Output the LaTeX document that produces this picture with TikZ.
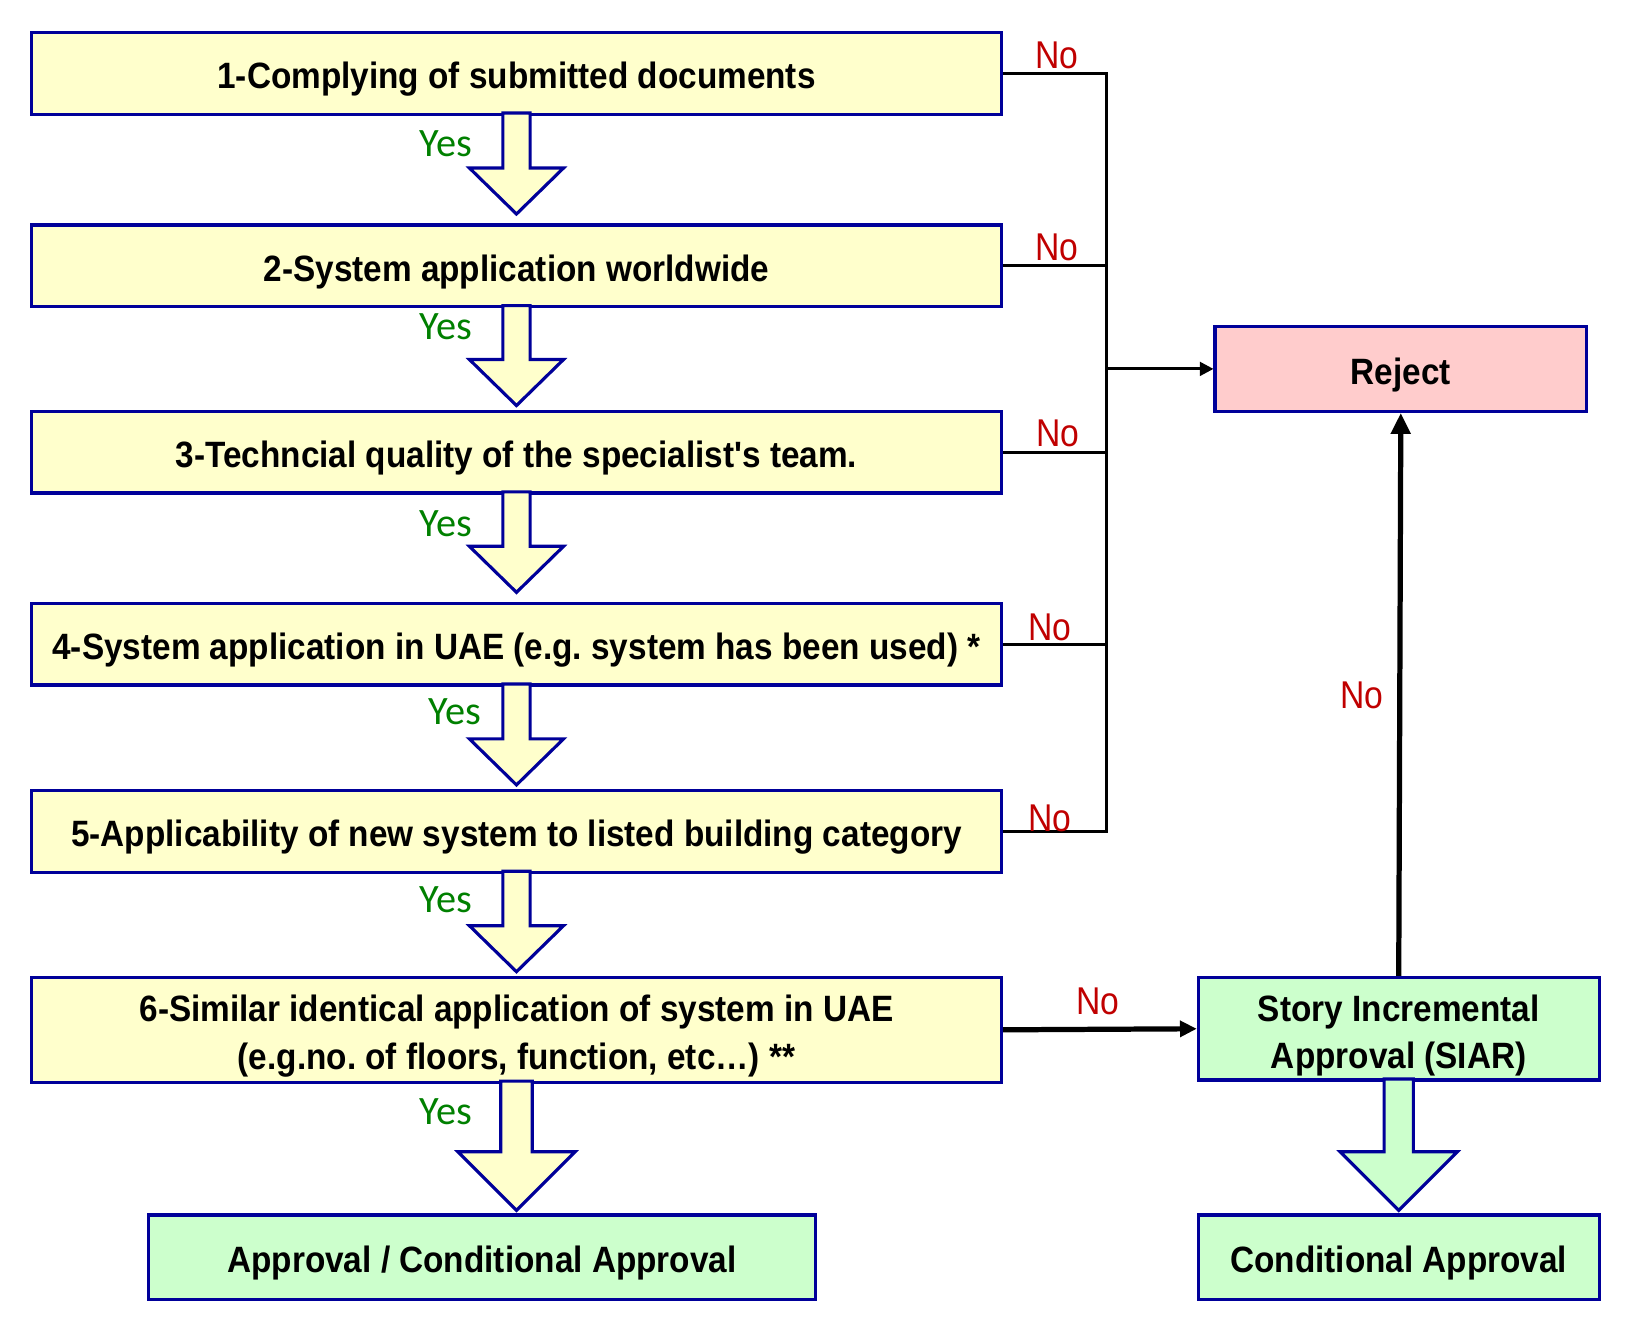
\documentclass[tikz,border=0pt]{standalone}
\usepackage{fontspec}
\setmainfont{Liberation Sans}[FakeStretch=0.91, Ligatures=TeXOff]
\newfontfamily\nofont{Liberation Sans}[FakeStretch=0.87]
\newfontfamily\yesfont{Carlito}
\usetikzlibrary{calc,arrows.meta}
\frenchspacing
\definecolor{bordblue}{RGB}{0,0,153}
\definecolor{boxyellow}{RGB}{255,255,204}
\definecolor{boxgreen}{RGB}{204,255,204}
\definecolor{boxpink}{RGB}{255,204,204}
\definecolor{nored}{RGB}{192,0,0}
\definecolor{yesgreen}{RGB}{0,128,0}
\tikzset{
  stepbox/.style={draw=bordblue, line width=3pt, fill=boxyellow, rectangle, inner sep=0pt,
     minimum width=927pt, minimum height=78pt, align=center, text height=30pt, text depth=1pt,
     font=\fontsize{35}{45}\selectfont\bfseries\frenchspacing},
  greenbox/.style={stepbox, fill=boxgreen, minimum width=383pt},
  pinkbox/.style={stepbox, fill=boxpink, minimum width=355pt, minimum height=81pt},
  nolab/.style={text=nored, font=\nofont\fontsize{37}{40}\selectfont, inner sep=0pt},
  yeslab/.style={text=yesgreen, font=\yesfont\fontsize{38.5}{40}\selectfont, inner sep=0pt},
  conn/.style={line width=2.8pt, draw=black},
  thickconn/.style={line width=5pt, draw=black},
}
\newcommand\blockarr[7]{%
  \path let \p1=(#1.south), \p2=(#2.north) in
    [fill=#7] (\x1-#3pt,\y1+2.5pt) -- (\x1-#3pt,\y2+#6pt+#5pt) -- (\x1-#4pt,\y2+#6pt+#5pt)
      -- (\x1,\y2+#6pt) -- (\x1+#4pt,\y2+#6pt+#5pt) -- (\x1+#3pt,\y2+#6pt+#5pt)
      -- (\x1+#3pt,\y1+2.5pt) -- cycle
    [draw=bordblue, line width=3pt, line join=miter] (\x1-#3pt,\y1) -- (\x1-#3pt,\y2+#6pt+#5pt) -- (\x1-#4pt,\y2+#6pt+#5pt)
      -- (\x1,\y2+#6pt) -- (\x1+#4pt,\y2+#6pt+#5pt) -- (\x1+#3pt,\y2+#6pt+#5pt)
      -- (\x1+#3pt,\y1);}
\begin{document}
\begin{tikzpicture}[x=1pt,y=-1pt]
\useasboundingbox[fill=white] (0,0) rectangle (1568,1271);
% boxes
\node[stepbox] (b1) at (493.5,70) {1-Complying of submitted documents};
\node[stepbox] (b2) at (493.5,254) {2-System application worldwide};
\node[stepbox] (b3) at (493.5,432) {3-Techncial quality of the specialist's team.};
\node[stepbox] (b4) at (493.5,615.5) {4-System application in UAE (e.g. system has been used) *};
\node[stepbox] (b5) at (493.5,794.5) {5-Applicability of new system to listed building category};
\node[stepbox, minimum height=100pt, text height=76pt, text depth=1pt] (b6) at (493.5,984) {6-Similar identical application of system in UAE\\(e.g.no. of floors, function, etc…) **};
\node[greenbox, minimum width=637pt, minimum height=81pt] (ap) at (460.5,1201.5) {Approval / Conditional Approval};
\node[pinkbox] (rj) at (1338.5,352.5) {Reject};
\node[greenbox, minimum height=98pt, text height=77pt, text depth=1pt] (siar) at (1336.5,983) {Story Incremental\\Approval (SIAR)};
\node[greenbox, minimum height=81pt] (ca) at (1336.5,1201.5) {Conditional Approval};
% block arrows
\blockarr{b1}{b2}{13}{45}{44}{9}{boxyellow}
\blockarr{b2}{b3}{13}{45}{44}{4}{boxyellow}
\blockarr{b3}{b4}{13}{45}{44}{9}{boxyellow}
\blockarr{b4}{b5}{13}{45}{44}{4}{boxyellow}
\blockarr{b5}{b6}{13}{45}{44}{4}{boxyellow}
\blockarr{b6}{ap}{15}{56}{56}{3}{boxyellow}
\blockarr{siar}{ca}{14}{56}{56}{3}{boxgreen}
% Yes labels
\node[yeslab] (y1) at (426,137) {Yes};
\node[yeslab] (y2) at (426,312) {Yes};
\node[yeslab] (y3) at (426,500) {Yes};
\node[yeslab] (y4) at (435,680) {Yes};
\node[yeslab] (y5) at (426,860) {Yes};
\node[yeslab] (y6) at (426,1062) {Yes};
% No connectors
\coordinate (bus) at (1057,0);
\draw[conn] (b1.east) -- (b1.east -| bus);
\draw[conn] (b2.east) -- (b2.east -| bus);
\draw[conn] (b3.east) -- (b3.east -| bus);
\draw[conn] (b4.east) -- (b4.east -| bus);
\draw[conn] (b5.east) -- (b5.east -| bus);
\draw[conn, line cap=rect] (b1.east -| bus) -- (b5.east -| bus);
\draw[conn, -{Triangle[length=13pt,width=13pt]}] (bus |- rj.west) -- (rj.west);
\draw[thickconn, -{Triangle[length=16pt,width=15pt]}] (b6.east) -- (siar.west);
\draw[thickconn, -{Triangle[length=20pt,width=18pt]}] (siar.north) -- (rj.south);
% No labels
\node[nolab] (n1) at (1010,53) {No};
\node[nolab] (n2) at (1010,236) {No};
\node[nolab] (n3) at (1011,414) {No};
\node[nolab] (n4) at (1003,599) {No};
\node[nolab] (n5) at (1003,782) {No};
\node[nolab] (n6) at (1049,957) {No};
\node[nolab] (n7) at (1301,664) {No};
\end{tikzpicture}
\end{document}
